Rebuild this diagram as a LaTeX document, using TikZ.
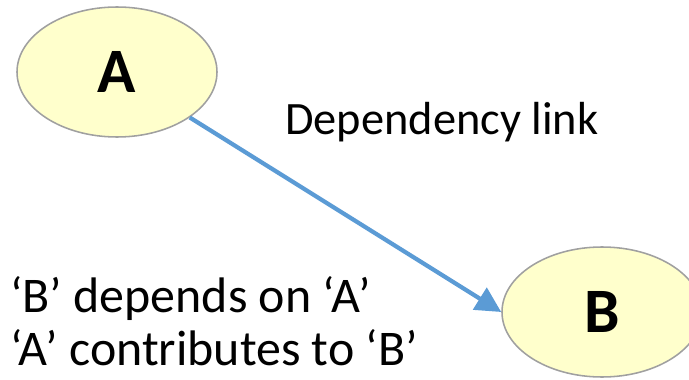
\documentclass[tikz,border=0pt]{standalone}
\usepackage{fontspec}
\setmainfont{Carlito}
\usepackage{tikz}
\usetikzlibrary{shapes.geometric, arrows.meta}
\definecolor{nodefill}{RGB}{255,255,204}
\definecolor{nodeline}{RGB}{160,160,160}
\definecolor{linkblue}{RGB}{91,155,213}

\begin{document}
\begin{tikzpicture}[
    item/.style={ellipse, draw=nodeline, line width=1.1pt, fill=nodefill,
      minimum width=5cm, minimum height=3.25cm, inner sep=0pt,
      font=\fontsize{45}{50}\selectfont\bfseries},
    words/.style={inner sep=0pt, font=\fontsize{33}{37.7}\selectfont}
  ]
        \useasboundingbox (0,0) rectangle (17.225,-9.5);

        % Nos
        \node[item] (a) at (2.925,-1.8) {A};
        \node[item] (b) at (15.05,-7.8) {B};

        % Ligacao
        \draw[linkblue, line width=3pt, -{Triangle[length=18pt, width=18pt]}]
            (a.-32) -- (b.west);
        \node[words, anchor=base west] (lbl) at (7.125,-3.375) {Dependency link};

        % Texto
        \node[words, font=\fontsize{35.5}{37.7}\selectfont, anchor=base west, align=left] (txt) at (0.25,-9.125)
            {‘B’ depends on ‘A’\\‘A’ contributes to ‘B’};
\end{tikzpicture}
\end{document}
